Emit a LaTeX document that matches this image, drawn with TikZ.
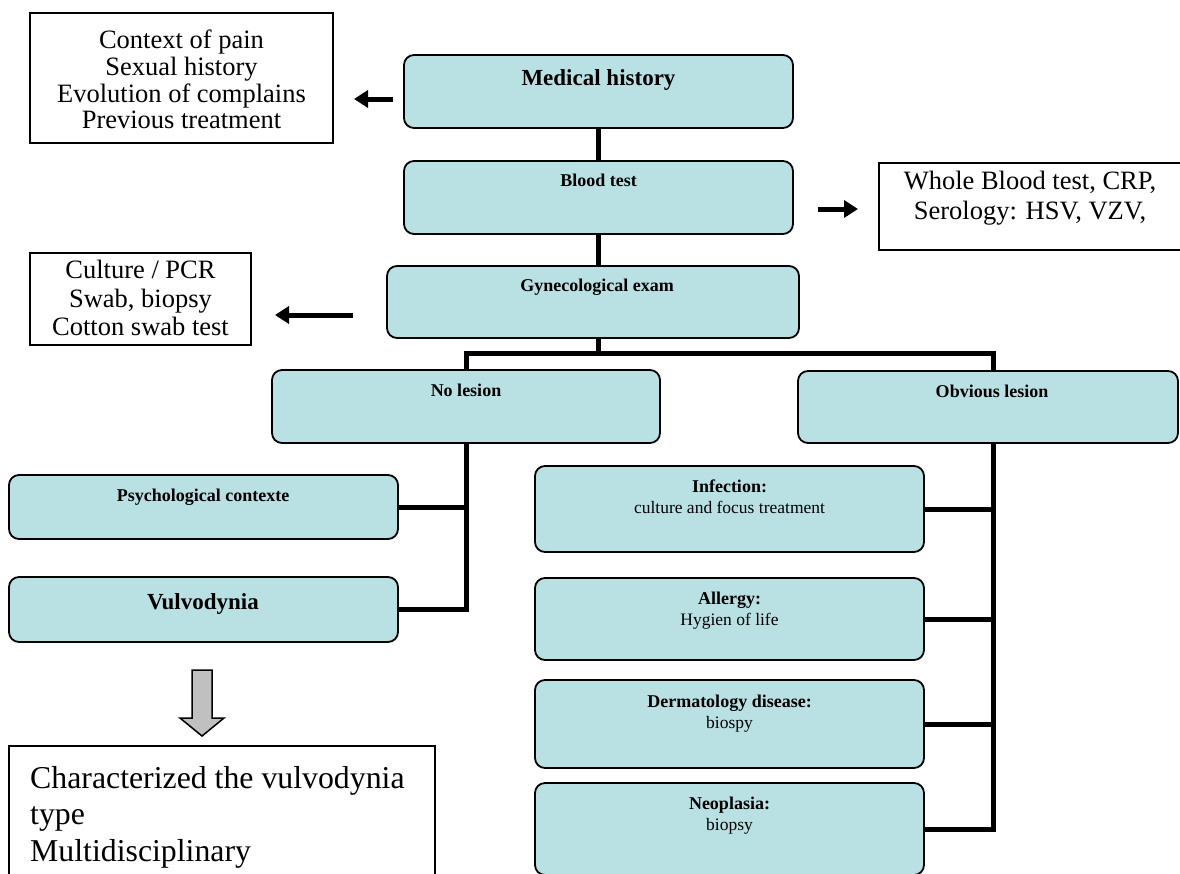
\documentclass[tikz,border=0pt]{standalone}
\usepackage{fontspec}
\setmainfont{Liberation Serif}
\usetikzlibrary{arrows.meta}
\definecolor{tealbox}{RGB}{185,224,227}
\definecolor{grayarrow}{RGB}{192,192,192}
\begin{document}
\begin{tikzpicture}[x=1pt,y=-1pt,
  tbox/.style={draw=black, line width=1.8pt, fill=tealbox, rounded corners=10pt, inner sep=0pt},
  wbox/.style={draw=black, line width=1.5pt, fill=white, inner sep=0pt},
  conn/.style={line width=5pt, line join=miter},
  blk/.style={line width=5pt, -{Triangle[length=14pt,width=17pt]}},
  ttl/.style={inner sep=0pt, anchor=base, font=\fontsize{18}{21}\selectfont\bfseries},
  two/.style={inner sep=0pt, anchor=north, align=center, font=\fontsize{17.5}{21}\selectfont}
]
\clip (0,0) rectangle (1180,873);
\fill[white] (0,0) rectangle (1180,873);

% ---------- top left box
\node[wbox, minimum width=303pt, minimum height=130pt] (ctx) at (181.5,78) {};
\node[inner sep=0pt, anchor=north, align=center,
      font=\fontsize{26.5}{26.7}\selectfont] (ctxt) at (181.5,30)
  {Context of pain\\Sexual history\\Evolution of complains\\Previous treatment};

% ---------- main column
\node[tbox, minimum width=389pt, minimum height=73pt] (med) at (598.5,91.5) {};
\node[inner sep=0pt, anchor=base, font=\fontsize{23}{26}\selectfont\bfseries] (medt) at (598.5,85) {Medical history};

\node[tbox, minimum width=389pt, minimum height=73pt] (blood) at (598.5,197.5) {};
\node[ttl] (bloodt) at (598.5,186) {Blood test};

\node[wbox, minimum width=306pt, minimum height=87pt] (whole) at (1032,206.5) {};
\node[inner sep=0pt, anchor=north, align=center, font=\fontsize{26.5}{30}\selectfont] (wholet) at (1030,171)
  {Whole Blood test, CRP,\\Serology: HSV, VZV,};

\node[tbox, minimum width=412pt, minimum height=72pt] (gyn) at (593,302) {};
\node[ttl] (gynt) at (597,291) {Gynecological exam};

\node[wbox, minimum width=221pt, minimum height=92pt] (cult) at (140.5,299) {};
\node[inner sep=0pt, anchor=north, align=center, font=\fontsize{26.5}{28.5}\selectfont] (cultt) at (140.5,260)
  {Culture / PCR\\Swab, biopsy\\Cotton swab test};

% arrows
\coordinate (a1s) at (393,99);  \coordinate (a1e) at (354,99);
\coordinate (a2s) at (818,209); \coordinate (a2e) at (858,209);
\coordinate (a3s) at (353,315); \coordinate (a3e) at (275,315);
\draw[blk] (a1s) -- (a1e);
\draw[blk] (a2s) -- (a2e);
\draw[blk] (a3s) -- (a3e);

\draw[conn] (med.south -| 598,0) -- (blood.north -| 598,0);
\draw[conn] (blood.south -| 598,0) -- (gyn.north -| 598,0);

% ---------- split
\node[tbox, minimum width=388pt, minimum height=73pt] (nol) at (466,406.5) {};
\node[ttl] (nolt) at (466,396) {No lesion};
\node[tbox, minimum width=380pt, minimum height=72pt] (obv) at (988,407) {};
\node[ttl] (obvt) at (992,397) {Obvious lesion};

\coordinate (sp) at (598,353);
\coordinate (rtop) at (993,371);
\coordinate (rbot) at (993,443);
\draw[conn] (gyn.south -| sp) -- (sp);
\draw[conn] (nol.north) |- (sp);
\draw[conn] (rtop) |- (sp);

% ---------- left branch
\node[tbox, minimum width=389pt, minimum height=64pt] (psy) at (203.5,507) {};
\node[ttl] (psyt) at (203,501) {Psychological contexte};
\node[tbox, minimum width=389pt, minimum height=65pt] (vul) at (203.5,609.5) {};
\node[inner sep=0pt, anchor=base, font=\fontsize{23}{26}\selectfont\bfseries] (vult) at (203,609) {Vulvodynia};

\draw[conn] (nol.south) |- (psy.east);
\draw[conn] (nol.south) |- (vul.east);

% gray block arrow
\draw[line width=1.5pt, fill=grayarrow, line join=miter]
  (192,670) -- (212,670) -- (212,718) -- (224,718) -- (202,736) -- (180,718) -- (192,718) -- cycle;

\node[wbox, minimum width=426pt, minimum height=154pt] (res) at (222,823) {};
\node[inner sep=0pt, anchor=north west, align=left, font=\fontsize{31.8}{36.5}\selectfont] (rest) at (30,766)
  {Characterized the vulvodynia\\type\\Multidisciplinary};

% ---------- right branch
\node[tbox, minimum width=389pt, minimum height=86pt] (inf) at (729.5,509) {};
\node[two] (inft) at (729.5,480) {\fontsize{18}{21}\selectfont\bfseries Infection:\\culture and focus treatment};
\node[tbox, minimum width=389pt, minimum height=82pt] (all) at (729.5,619) {};
\node[two] (allt) at (729.5,592) {\fontsize{18}{21}\selectfont\bfseries Allergy:\\Hygien of life};
\node[tbox, minimum width=389pt, minimum height=88pt] (der) at (729.5,724) {};
\node[two] (dert) at (729.5,695) {\fontsize{18}{21}\selectfont\bfseries Dermatology disease:\\biospy};
\node[tbox, minimum width=389pt, minimum height=92pt] (neo) at (729.5,829) {};
\node[two] (neot) at (729.5,797) {\fontsize{18}{21}\selectfont\bfseries Neoplasia:\\biopsy};

\draw[conn] (rbot) |- (inf.east);
\draw[conn] (rbot) |- (all.east);
\draw[conn] (rbot) |- (der.east);
\draw[conn] (rbot) |- (neo.east);
\end{tikzpicture}
\end{document}
